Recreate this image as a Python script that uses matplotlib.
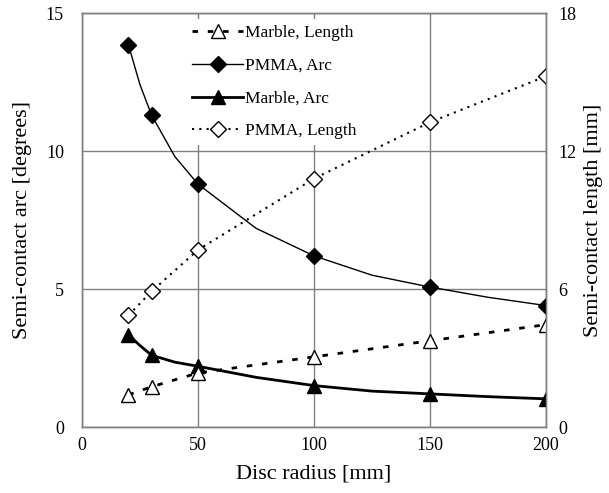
import matplotlib
matplotlib.use("Agg")
import matplotlib.pyplot as plt
from matplotlib.lines import Line2D

# radii where the markers sit
radius = [20, 30, 50, 100, 150, 200]

# semi-contact arc [degrees] (left axis)
pmma_arc = [13.85, 11.3, 8.8, 6.2, 5.07, 4.4]
marble_arc = [3.35, 2.6, 2.2, 1.5, 1.2, 1.02]

# semi-contact length [mm] (right axis)
pmma_len = [4.85, 5.9, 7.7, 10.8, 13.25, 15.25]
marble_len = [1.4, 1.75, 2.35, 3.05, 3.75, 4.45]

# the arc curves are drawn through more radii than are marked
curve_radius = [20, 25, 30, 40, 50, 75, 100, 125, 150, 175, 200]
pmma_arc_curve = [13.85, 12.4, 11.3, 9.8, 8.8, 7.2, 6.2, 5.5, 5.07, 4.7, 4.4]
marble_arc_curve = [3.35, 2.95, 2.6, 2.35, 2.2, 1.8, 1.5, 1.3, 1.2, 1.1, 1.02]

x_ticks = [0, 50, 100, 150, 200]
left_ticks = [0, 5, 10, 15]
right_ticks = [0, 6, 12, 18]

plt.rcParams['font.family'] = ['Liberation Serif', 'DejaVu Serif']

GRID = '#808080'

fig = plt.figure(figsize=(6.09, 4.93), dpi=100)
ax = fig.add_axes([82 / 609, 1 - 427 / 493, 464 / 609, 414 / 493])
ax2 = ax.twinx()

# grid on the left axis
ax.set_xlim(0, 200)
ax.set_ylim(0, 15)
ax2.set_ylim(0, 18)
ax.set_xticks(x_ticks)
ax.set_yticks(left_ticks)
ax2.set_yticks(right_ticks)
ax.grid(True, color=GRID, lw=1.0)
ax.set_axisbelow(True)

for a in (ax, ax2):
    for s in a.spines.values():
        s.set_color(GRID)
        s.set_linewidth(1.0)
    a.tick_params(length=0, labelsize=13)
ax.tick_params(axis='y', pad=13)
ax.tick_params(axis='x', pad=7)
ax2.tick_params(axis='y', pad=9)

# arc curves (left)
ax.plot(curve_radius, pmma_arc_curve, color='black', lw=1.0, zorder=3)
ax.plot(radius, pmma_arc, ls='none', marker='D', ms=8, color='black', zorder=4)
ax.plot(curve_radius, marble_arc_curve, color='black', lw=2.0, zorder=3)
ax.plot(radius, marble_arc, ls='none', marker='^', ms=10, color='black', zorder=4)

# length curves (right)
ax2.plot(radius, marble_len, color='black', lw=2.0, ls=(0, (2, 3.5)),
         marker='^', ms=10, mfc='white', mec='black', mew=1.0)
ax2.plot(radius, pmma_len, color='black', lw=1.5, ls=(0, (1, 2.5)),
         marker='D', ms=8, mfc='white', mec='black', mew=1.0)

ax.set_xlabel('Disc radius [mm]', fontsize=16, labelpad=8)
ax.set_ylabel('Semi-contact arc [degrees]', fontsize=16, labelpad=10)
ax2.set_ylabel('Semi-contact length [mm]', fontsize=16, labelpad=5)

handles = [
    Line2D([], [], color='black', lw=2.0, ls=(0, (2, 3.5)), marker='^', ms=10,
           mfc='white', mec='black'),
    Line2D([], [], color='black', lw=1.0, marker='D', ms=8),
    Line2D([], [], color='black', lw=2.0, marker='^', ms=10),
    Line2D([], [], color='black', lw=1.5, ls=(0, (1, 2.5)), marker='D', ms=8,
           mfc='white', mec='black'),
]
labels = ['Marble, Length', 'PMMA, Arc', 'Marble, Arc', 'PMMA, Length']
leg = ax2.legend(handles, labels, loc='upper left',
                 bbox_to_anchor=(0.225, 0.985), borderaxespad=0,
                 fontsize=12.5, frameon=True, fancybox=False,
                 facecolor='white', edgecolor='none', framealpha=1,
                 handlelength=2.9, handletextpad=0.1, labelspacing=0.95,
                 borderpad=0.35)

fig.savefig('out.png', dpi=100)
